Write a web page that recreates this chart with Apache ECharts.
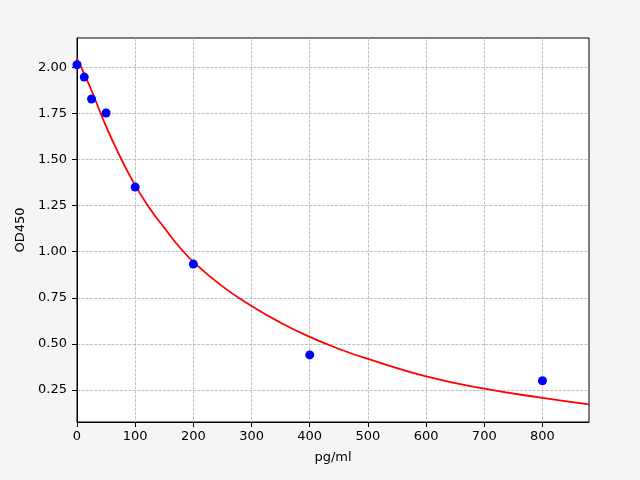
<!DOCTYPE html>
<html>
<head>
<meta charset="utf-8">
<script src="https://cdn.jsdelivr.net/npm/echarts@6/dist/echarts.min.js"></script>
<style>
html,body{margin:0;padding:0;background:#f5f5f5;}
#chart{width:640px;height:480px;}
</style>
</head>
<body>
<div id="chart"></div>
<script>
// Measured standards
var stdX = [0, 12.5, 25, 50, 100, 200, 400, 800];
var stdY = [2.015, 1.948, 1.829, 1.753, 1.351, 0.933, 0.44, 0.30];
// Fitted curve
var curveX = [0, 12.5, 25, 50, 75, 100, 125, 150, 175, 200, 250, 300, 350, 400, 450, 500, 600, 700, 800, 880];
var curveY = [2.05, 1.965, 1.875, 1.68, 1.51, 1.36, 1.235, 1.13, 1.03, 0.945, 0.812, 0.706, 0.615, 0.538, 0.473, 0.418, 0.324, 0.257, 0.207, 0.172];
// Tick labels
var xTicks = [0, 100, 200, 300, 400, 500, 600, 700, 800];
var yTicks = [0.25, 0.5, 0.75, 1.0, 1.25, 1.5, 1.75, 2.0];

var chart = echarts.init(document.getElementById('chart'), null, {renderer: 'canvas'});
var font = 'DejaVu Sans';
var gridLine = {show: true, lineStyle: {color: '#b0b0b0', type: [3, 1.3], width: 0.8}};

chart.setOption({
  backgroundColor: '#f5f5f5',
  animation: false,
  grid: {left: 77, right: 51, top: 38, bottom: 58, show: true, backgroundColor: '#ffffff', borderColor: '#000', borderWidth: 1},
  xAxis: {
    type: 'value', min: 0, max: 880, minInterval: 100, maxInterval: 100,
    name: 'pg/ml', nameLocation: 'middle', nameGap: 29,
    nameTextStyle: {fontFamily: font, fontSize: 13, color: '#000'},
    axisLine: {show: true, lineStyle: {color: '#000', width: 1}},
    axisTick: {show: true, inside: false, length: 5, lineStyle: {color: '#000'}, customValues: xTicks},
    axisLabel: {show: true, margin: 8, fontFamily: font, fontSize: 13, color: '#000', customValues: xTicks,
      formatter: function (v) { return String(v); }},
    splitLine: gridLine
  },
  yAxis: {
    type: 'value', min: 0.076, max: 2.16, minInterval: 0.25, maxInterval: 0.25,
    name: 'OD450', nameLocation: 'middle', nameGap: 48,
    nameTextStyle: {fontFamily: font, fontSize: 13, color: '#000'},
    axisLine: {show: true, lineStyle: {color: '#000', width: 1}},
    axisTick: {show: true, inside: false, length: 5, lineStyle: {color: '#000'}, customValues: yTicks},
    axisLabel: {show: true, margin: 10, fontFamily: font, fontSize: 13, color: '#000', customValues: yTicks,
      formatter: function (v) { return v.toFixed(2); }},
    splitLine: gridLine
  },
  series: [
    {
      type: 'line', data: curveX.map(function (x, i) { return [x, curveY[i]]; }),
      smooth: 0.5, showSymbol: false, symbol: 'none', clip: true,
      lineStyle: {color: '#ff0000', width: 1.8}, z: 2
    },
    {
      type: 'scatter', data: stdX.map(function (x, i) { return [x, stdY[i]]; }),
      symbol: 'circle', symbolSize: 9, itemStyle: {color: '#0000ff', opacity: 1}, z: 3, clip: false
    }
  ]
});
</script>
</body>
</html>
